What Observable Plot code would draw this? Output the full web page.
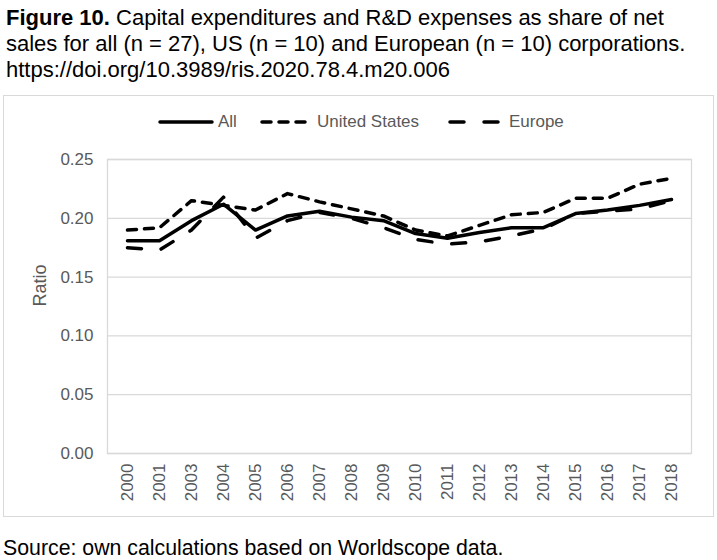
<!DOCTYPE html>
<html>
<head>
<meta charset="utf-8">
<script src="https://cdn.jsdelivr.net/npm/d3@7"></script>
<script src="https://cdn.jsdelivr.net/npm/@observablehq/plot@0.6"></script>
<style>
  html, body { margin: 0; padding: 0; background: #fff; }
  body { position: relative; width: 717px; height: 560px; overflow: hidden;
         font-family: "Liberation Sans", Arial, sans-serif; }
  #title { position: absolute; left: 6px; top: 5px; font-size: 22px; line-height: 26px; color: #000; white-space: nowrap; }
  #box { position: absolute; left: 3px; top: 95px; width: 711px; height: 422px; box-sizing: border-box; border: 1px solid #d9d9d9; }
  .leg { position: absolute; top: 112px; height: 20px; display: flex; align-items: center; font-size: 17px; color: #595959; white-space: nowrap; }
  .leg svg { display: block; margin-right: 4px; }
  #chart { position: absolute; left: 3px; top: 140px; }
  #source { position: absolute; left: 3px; top: 535px; font-size: 21.3px; line-height: 26px; color: #000; white-space: nowrap; }
</style>
</head>
<body>
<div id="title"><b>Figure 10.</b> Capital expenditures and R&amp;D expenses as share of net<br>sales for all (n = 27), US (n = 10) and European (n = 10) corporations.<br>https://doi.org/10.3989/ris.2020.78.4.m20.006</div>
<div id="box"></div>
<div id="chart"></div>
<div id="source">Source: own calculations based on Worldscope data.</div>
<script>
const years = ["2000","2001","2003","2004","2005","2006","2007","2008","2009","2010","2011","2012","2013","2014","2015","2016","2017","2018"];
const allValues    = [0.181,0.181,0.198,0.212,0.190,0.202,0.206,0.201,0.198,0.187,0.183,0.188,0.192,0.192,0.204,0.207,0.211,0.216];
const usValues     = [0.190,0.192,0.215,0.211,0.207,0.221,0.214,0.208,0.202,0.190,0.185,0.194,0.203,0.205,0.217,0.217,0.229,0.234];
const europeValues = [0.175,0.173,0.190,0.218,0.183,0.198,0.205,0.200,0.192,0.182,0.178,0.180,0.185,0.191,0.204,0.206,0.208,0.215];
const yTicks = [0, 0.05, 0.10, 0.15, 0.20, 0.25];
const seriesNames = ["All", "United States", "Europe"];

const dashes = {"All": null, "United States": "9,8", "Europe": "14,20"};
const toRows = (vals) => years.map((yr, i) => ({year: yr, value: vals[i]}));
const allRows = toRows(allValues), usRows = toRows(usValues), euRows = toRows(europeValues);

const lineOpts = (name) => ({x: "year", y: "value", stroke: "#000", strokeWidth: 3.5,
  strokeLinecap: "round", strokeLinejoin: "round", strokeDasharray: dashes[name]});

const plot = Plot.plot({
  width: 711, height: 377,
  marginTop: 19, marginBottom: 64, marginLeft: 104, marginRight: 23,
  style: {fontFamily: "'Liberation Sans', Arial, sans-serif", background: "transparent"},
  x: {type: "point", domain: years, padding: 0.5, label: null},
  y: {domain: [0, 0.25], label: null},
  marks: [
    Plot.ruleY(yTicks, {stroke: "#d9d9d9", strokeWidth: 1.3}),
    Plot.frame({stroke: "#d9d9d9", strokeWidth: 1.3}),
    Plot.axisY(yTicks, {tickFormat: d3.format(".2f"), tickSize: 0, tickPadding: 14, fontSize: 17, fill: "#595959", label: null}),
    Plot.axisX({tickRotate: -90, tickSize: 0, tickPadding: 10, fontSize: 17, fill: "#595959", label: null}),
    Plot.text(["Ratio"], {frameAnchor: "left", dx: -67, rotate: -90, text: d => d, fontSize: 18, fill: "#595959"}),
    Plot.line(allRows, lineOpts("All")),
    Plot.line(usRows, lineOpts("United States")),
    Plot.line(euRows, lineOpts("Europe"))
  ]
});
document.getElementById("chart").appendChild(plot);

// legend
const legPos = {"All": 158, "United States": 260, "Europe": 448};
const legLen = {"All": 56, "United States": 53, "Europe": 57};
for (const name of seriesNames) {
  const div = document.createElement("div");
  div.className = "leg";
  div.style.left = legPos[name] + "px";
  const w = legLen[name];
  const ns = "http://www.w3.org/2000/svg";
  const svg = document.createElementNS(ns, "svg");
  svg.setAttribute("width", w); svg.setAttribute("height", 8);
  const ln = document.createElementNS(ns, "line");
  ln.setAttribute("x1", 2); ln.setAttribute("x2", w - 2);
  ln.setAttribute("y1", 4); ln.setAttribute("y2", 4);
  ln.setAttribute("stroke", "#000"); ln.setAttribute("stroke-width", 3.5);
  ln.setAttribute("stroke-linecap", "round");
  if (dashes[name]) ln.setAttribute("stroke-dasharray", dashes[name]);
  svg.appendChild(ln);
  div.appendChild(svg);
  const sp = document.createElement("span");
  sp.textContent = name;
  div.appendChild(sp);
  document.body.appendChild(div);
}
</script>
</body>
</html>
